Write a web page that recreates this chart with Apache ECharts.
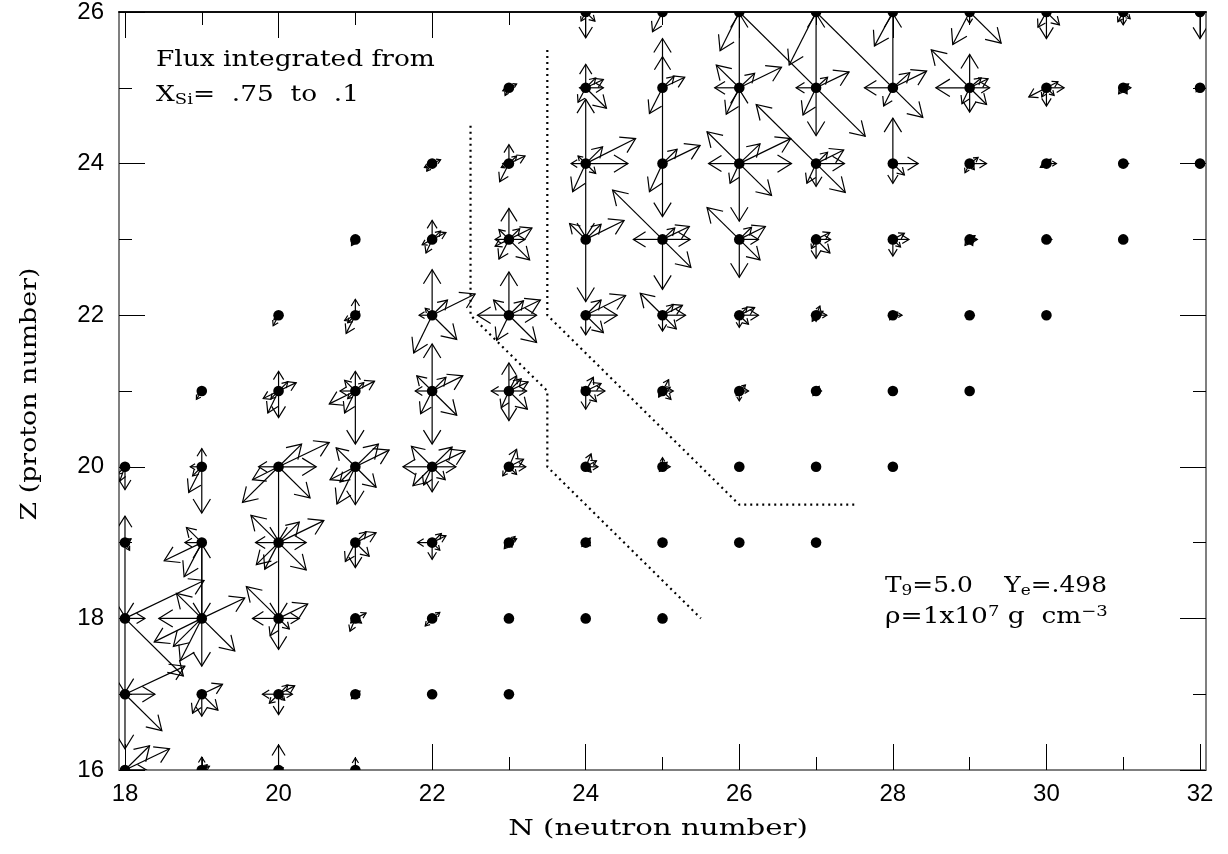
<!DOCTYPE html>
<html>
<head>
<meta charset="utf-8">
<script src="https://cdn.jsdelivr.net/npm/echarts@6/dist/echarts.min.js"></script>
<style>
html,body{margin:0;padding:0;background:#fff;}
#chart{width:1228px;height:854px;}
</style>
</head>
<body>
<div id="chart"></div>
<script>
// ---------- data ----------
const xMajorTicks = [18, 20, 22, 24, 26, 28, 30, 32];
const xMinorTicks = [19, 21, 23, 25, 27, 29, 31];
const yMajorTicks = [16, 18, 20, 22, 24, 26];
const yMinorTicks = [17, 19, 21, 23, 25];

// nuclei shown as dots: [N, Z]
const nucleiZ26 = [[24,26],[25,26],[26,26],[27,26],[28,26],[29,26],[30,26],[31,26],[32,26]];
const nucleiZ25 = [[23,25],[24,25],[25,25],[26,25],[27,25],[28,25],[29,25],[30,25],[31,25],[32,25]];
const nucleiZ24 = [[22,24],[23,24],[24,24],[25,24],[26,24],[27,24],[28,24],[29,24],[30,24],[31,24],[32,24]];
const nucleiZ23 = [[21,23],[22,23],[23,23],[24,23],[25,23],[26,23],[27,23],[28,23],[29,23],[30,23],[31,23]];
const nucleiZ22 = [[20,22],[21,22],[22,22],[23,22],[24,22],[25,22],[26,22],[27,22],[28,22],[29,22],[30,22]];
const nucleiZ21 = [[19,21],[20,21],[21,21],[22,21],[23,21],[24,21],[25,21],[26,21],[27,21],[28,21],[29,21]];
const nucleiZ20 = [[18,20],[19,20],[20,20],[21,20],[22,20],[23,20],[24,20],[25,20],[26,20],[27,20],[28,20]];
const nucleiZ19 = [[18,19],[19,19],[20,19],[21,19],[22,19],[23,19],[24,19],[25,19],[26,19],[27,19]];
const nucleiZ18 = [[18,18],[19,18],[20,18],[21,18],[22,18],[23,18],[24,18],[25,18]];
const nucleiZ17 = [[18,17],[19,17],[20,17],[21,17],[22,17],[23,17]];
const nucleiZ16 = [[18,16],[19,16],[20,16],[21,16]];

// flux arrows: [N, Z, dN, dZ]  (arrow from nucleus to (N+dN, Z+dZ))
const fluxZ26 = [
  [24,26,0,-0.34],[24,26,0.12,-0.12],[24,26,-0.06,-0.12],
  [25,26,-0.13,-0.26],
  [26,26,-0.25,-0.51],[26,26,1.64,-1.64],
  [27,26,-0.35,-0.7],[27,26,1.39,-1.39],
  [28,26,-0.24,-0.45],
  [29,26,-0.22,-0.43],[29,26,0.41,-0.41],[29,26,0,-0.15],
  [30,26,0,-0.35],[30,26,-0.11,-0.2],[30,26,0.17,-0.17],
  [31,26,0,-0.17],[31,26,-0.07,-0.13],[31,26,0.09,-0.09],
  [32,26,0,-0.35]
];
const fluxZ25 = [
  [23,25,-0.05,-0.1],[23,25,0.1,0.05],[23,25,-0.08,-0.04],
  [24,25,0,0.31],[24,25,0.23,0],[24,25,0.23,0.11],[24,25,0.13,0.13],[24,25,-0.1,-0.19],[24,25,0.27,-0.27],[24,25,-0.08,0],
  [25,25,0,0.41],[25,25,0.29,0.14],[25,25,0.15,0.15],[25,25,-0.17,-0.34],
  [26,25,-0.32,0],[26,25,-0.3,0.3],[26,25,0.2,0.19],[26,25,0.55,0.27],[26,25,-0.17,-0.35],[26,25,0,0.98],
  [27,25,-0.26,0],[27,25,0.15,0.14],[27,25,0.43,0.21],[27,25,-0.17,-0.36],[27,25,0,-0.63],[27,25,0,0.98],
  [28,25,-0.37,0],[28,25,0.22,0.2],[28,25,0.44,0.22],[28,25,-0.12,-0.24],[28,25,0,0.98],
  [29,25,-0.44,0],[29,25,-0.5,0.5],[29,25,0,0.44],[29,25,0.15,0.13],[29,25,0.24,0.12],[29,25,0.26,0],[29,25,0.22,-0.22],[29,25,0,-0.32],[29,25,-0.1,-0.21],
  [30,25,0.15,0.08],[30,25,0.23,0],[30,25,-0.23,-0.12],[30,25,0,-0.24],[30,25,0.1,-0.1],[30,25,-0.06,-0.12],
  [31,25,0.1,0],[31,25,-0.06,-0.08],[31,25,0.07,0.05],[31,25,0.05,-0.08],
  [32,25,0.06,0],[32,25,-0.05,-0.05]
];
const fluxZ24 = [
  [22,24,0.11,0.05],[22,24,-0.07,-0.1],[22,24,-0.1,-0.05],
  [23,24,0,0.25],[23,24,0.21,0.1],[23,24,0.1,0.1],[23,24,-0.12,-0.24],[23,24,-0.08,0],[23,24,-0.1,-0.05],
  [24,24,-0.19,0],[24,24,0.55,0],[24,24,0.65,0.33],[24,24,0.22,0.22],[24,24,-0.1,0.1],[24,24,-0.17,-0.37],[24,24,0.13,-0.13],[24,24,0,0.85],[24,24,0,-0.97],
  [25,24,0,1.65],[25,24,0.19,0.19],[25,24,0.49,0.24],[25,24,-0.17,-0.37],[25,24,0,-0.7],
  [26,24,-0.4,0],[26,24,0.68,0],[26,24,-0.42,0.42],[26,24,0.27,0.26],[26,24,0.67,0.33],[26,24,0.42,-0.42],[26,24,-0.12,-0.26],[26,24,0,-0.76],[26,24,0,0.98],
  [27,24,0.37,0],[27,24,0.36,0.18],[27,24,0.15,0.15],[27,24,-0.12,-0.26],[27,24,0,-0.3],[27,24,0.38,-0.38],[27,24,-0.78,0.78],
  [28,24,0,0.6],[28,24,0,-0.26],[28,24,0.33,0],[28,24,0.15,-0.15],
  [29,24,0.22,0],[29,24,0.11,0.08],[29,24,-0.06,-0.12],[29,24,0.06,-0.08],
  [30,24,0.13,0],[30,24,-0.08,-0.05],[30,24,0.06,0.06],
  [31,24,0.07,0],[31,24,-0.04,-0.04]
];
const fluxZ23 = [
  [21,23,-0.05,-0.08],[21,23,0.05,0.03],
  [22,23,0,0.25],[22,23,0.18,0.09],[22,23,0.11,0.11],[22,23,-0.08,-0.18],[22,23,-0.13,-0.07],
  [23,23,0,0.41],[23,23,-0.18,0],[23,23,-0.13,0.13],[23,23,0.14,0.14],[23,23,0.3,0.15],[23,23,0.21,0],[23,23,0.27,-0.27],[23,23,-0.13,-0.26],[23,23,-0.18,-0.09],
  [24,23,-0.21,0.21],[24,23,0.2,0.2],[24,23,0.5,0.25],[24,23,0,-0.82],
  [25,23,-0.38,0],[25,23,-0.65,0.65],[25,23,0.16,0.15],[25,23,0.35,0.17],[25,23,0.36,0],[25,23,0.37,-0.37],[25,23,0,-0.66],
  [26,23,-0.42,0.42],[26,23,0.16,0.16],[26,23,0.34,0.17],[26,23,0.25,0],[26,23,0.27,-0.27],[26,23,0,-0.5],
  [27,23,0.18,0.09],[27,23,0.19,0],[27,23,0.18,-0.18],[27,23,0,-0.25],[27,23,-0.06,-0.12],
  [28,23,0.21,0],[28,23,0.15,0.08],[28,23,0,-0.22],[28,23,0.1,-0.1],
  [29,23,0.1,0],[29,23,0.07,0.05],[29,23,-0.06,-0.08],[29,23,0.04,-0.08],
  [30,23,0.07,0],[30,23,-0.04,-0.03]
];
const fluxZ22 = [
  [20,22,-0.07,-0.14],[20,22,-0.06,-0.06],[20,22,0.04,0.03],
  [21,22,0,0.21],[21,22,-0.12,-0.24],[21,22,-0.14,-0.07],[21,22,-0.1,-0.1],[21,22,0.05,0.05],
  [22,22,0,0.6],[22,22,-0.17,0],[22,22,-0.09,0.09],[22,22,0.2,0.2],[22,22,0.56,0.28],[22,22,0.32,-0.32],[22,22,-0.24,-0.5],
  [23,22,0,0.57],[23,22,-0.41,0],[23,22,0.36,0],[23,22,-0.2,0.2],[23,22,0.19,0.19],[23,22,0.41,0.2],[23,22,0.36,-0.36],[23,22,-0.16,-0.33],
  [24,22,0,-0.26],[24,22,0.2,0.2],[24,22,0.52,0.26],[24,22,0.41,0],[24,22,0.23,-0.23],
  [25,22,-0.29,0.29],[25,22,0.14,0.14],[25,22,0.26,0.13],[25,22,0.3,0],[25,22,0.18,-0.18],[25,22,0,-0.21],
  [26,22,0.2,0.1],[26,22,0.1,0.1],[26,22,0.25,0],[26,22,0.12,-0.12],[26,22,0,-0.16],
  [27,22,0.05,0.12],[27,22,0.14,0],[27,22,0.09,0.05],[27,22,-0.05,-0.08],[27,22,0,-0.08],
  [28,22,0.12,0],[28,22,0.06,0.04],[28,22,-0.04,-0.06],
  [29,22,0.06,0],[29,22,-0.04,-0.05]
];
const fluxZ21 = [
  [19,21,-0.07,-0.11],[19,21,-0.05,-0.05],
  [20,21,0,0.26],[20,21,0,-0.35],[20,21,0.23,0.11],[20,21,0.12,0.12],[20,21,-0.2,-0.1],[20,21,-0.14,-0.29],[20,21,-0.1,-0.1],
  [21,21,0,0.26],[21,21,0,-0.7],[21,21,-0.14,0.14],[21,21,-0.2,0],[21,21,-0.34,-0.17],[21,21,-0.14,-0.29],[21,21,-0.1,-0.1],[21,21,0.25,0.13],[21,21,0.11,0.11],
  [22,21,0,0.62],[22,21,-0.22,0],[22,21,-0.2,0.2],[22,21,0.18,0.18],[22,21,0.4,0.2],[22,21,0.32,-0.32],[22,21,-0.15,-0.3],[22,21,0,-0.7],
  [23,21,0,0.37],[23,21,-0.23,0],[23,21,0.23,0],[23,21,0.1,0.2],[23,21,0.16,0.16],[23,21,0.25,0.12],[23,21,0.24,-0.24],[23,21,-0.1,-0.22],[23,21,0,-0.39],
  [24,21,0.1,0.18],[24,21,0.2,0.1],[24,21,0.25,0],[24,21,0.14,-0.14],[24,21,0,-0.24],[24,21,-0.05,0.05],
  [25,21,0.08,0.15],[25,21,0.14,0],[25,21,0.1,0.05],[25,21,0.11,-0.11],[25,21,-0.05,-0.08],
  [26,21,0.12,0],[26,21,0,-0.13],[26,21,0.08,0.08],[26,21,-0.04,-0.06],
  [27,21,0.07,0],[27,21,-0.04,-0.06],[27,21,0.04,0.06],
  [28,21,0.05,0],[28,21,-0.03,-0.05]
];
const fluxZ20 = [
  [18,20,0,-0.3],[18,20,-0.07,-0.19],[18,20,-0.1,-0.1],
  [19,20,0,0.24],[19,20,0,-0.61],[19,20,-0.15,0],[19,20,-0.17,-0.34],[19,20,-0.12,-0.12],
  [20,20,-0.26,0],[20,20,0.49,0],[20,20,0.3,0.3],[20,20,0.66,0.32],[20,20,0.41,-0.41],[20,20,-0.34,-0.17],[20,20,-0.47,-0.47],[20,20,0,-0.98],
  [21,20,-0.25,0.25],[21,20,0.3,0.3],[21,20,0.44,0.22],[21,20,-0.33,-0.17],[21,20,-0.24,-0.49],[21,20,0.27,-0.27],[21,20,0,-0.5],[21,20,-0.2,-0.2],
  [22,20,-0.38,0],[22,20,0.31,0],[22,20,-0.27,0.27],[22,20,0.26,0.26],[22,20,0.43,0.21],[22,20,0.17,-0.17],[22,20,-0.25,-0.25],[22,20,-0.11,-0.24],[22,20,0,-0.33],
  [23,20,0.1,0.23],[23,20,0.19,0.1],[23,20,0.22,0],[23,20,-0.08,-0.12],[23,20,0.1,-0.1],
  [24,20,0.07,0.17],[24,20,0.14,0.08],[24,20,0.16,0],[24,20,0.07,-0.07],
  [25,20,0,0.12],[25,20,0.1,0],[25,20,0.06,0.06],[25,20,-0.04,-0.06],
  [26,20,0.05,0],[26,20,0.03,0.04]
];
const fluxZ19 = [
  [18,19,0,0.35],[18,19,0,-0.98],[18,19,0.08,0.05],[18,19,0.06,-0.1],
  [19,19,-0.2,0.2],[19,19,-0.22,0],[19,19,-0.49,-0.24],[19,19,-0.23,-0.45],[19,19,0,-0.98],
  [20,19,-0.3,0],[20,19,0.36,0],[20,19,0.27,0.27],[20,19,0.59,0.29],[20,19,-0.18,-0.35],[20,19,-0.29,-0.29],[20,19,0.36,-0.36],[20,19,-0.36,0.36],[20,19,0,-0.98],
  [21,19,0.27,0.13],[21,19,0.14,0.14],[21,19,0.18,-0.18],[21,19,0,-0.33],[21,19,-0.13,-0.25],
  [22,19,-0.19,0],[22,19,0.18,0.09],[22,19,0.12,0.12],[22,19,0,-0.22],[22,19,0.1,-0.1],
  [23,19,0.08,0.08],[23,19,-0.06,-0.08],[23,19,0.1,0.05],[23,19,0.04,-0.06],
  [24,19,0.06,0.06],[24,19,-0.05,-0.05],[24,19,0.06,-0.04],
  [25,19,0.05,0.03],[25,19,-0.03,-0.05]
];
const fluxZ18 = [
  [18,18,0.26,0],[18,18,1.03,0.5],[18,18,0.76,-0.76],[18,18,0,-0.98],
  [19,18,-0.56,0],[19,18,-0.33,0.33],[19,18,0,0.98],[19,18,0.56,0.27],[19,18,0.43,-0.43],[19,18,-0.62,-0.31],[19,18,-0.37,-0.37],[19,18,-0.28,-0.56],[19,18,0,-0.63],
  [20,18,-0.42,0.42],[20,18,-0.34,0],[20,18,0.27,0],[20,18,0.38,0.19],[20,18,-0.11,-0.23],[20,18,0.14,-0.14],[20,18,0,-0.41],
  [21,18,0.14,0.07],[21,18,-0.07,-0.17],[21,18,-0.06,-0.06],[21,18,0.08,-0.06],
  [22,18,0.1,0.08],[22,18,-0.09,-0.1],[22,18,0.06,0.02],
  [23,18,0.04,0.03],[23,18,-0.03,-0.04]
];
const fluxZ17 = [
  [18,17,0.39,0],[18,17,0.78,0.37],[18,17,0.48,-0.48],[18,17,0,-0.72],
  [19,17,0.27,0.13],[19,17,0.21,-0.21],[19,17,0,-0.29],[19,17,-0.12,-0.25],
  [20,17,-0.21,0],[20,17,0.18,0],[20,17,0.21,0.11],[20,17,0.12,0.12],[20,17,0,-0.27],[20,17,-0.12,-0.12],[20,17,0.08,-0.08],
  [21,17,0.06,0.04],[21,17,-0.05,-0.06],[21,17,0.05,-0.04],
  [22,17,0.04,0.02],[22,17,-0.03,-0.03]
];
const fluxZ16 = [
  [18,16,0.32,0.32],[18,16,0.58,0.28],[18,16,0.28,0],
  [19,16,0,0.17],[19,16,0.1,0.05],[19,16,0.07,0.07],
  [20,16,0,0.33],[20,16,0.06,0.03],
  [21,16,0,0.16]
];

// dotted boundary lines [N, Z]
const boundaryInner = [[22.5,24.5],[22.5,22],[23.5,21],[23.5,20],[25.5,18]];
const boundaryOuter = [[23.5,25.5],[23.5,22],[26,19.5],[27.5,19.5]];

// ---------- chart ----------
const nuclei = [].concat(nucleiZ26, nucleiZ25, nucleiZ24, nucleiZ23, nucleiZ22, nucleiZ21,
                         nucleiZ20, nucleiZ19, nucleiZ18, nucleiZ17, nucleiZ16);
const fluxes = [].concat(fluxZ26, fluxZ25, fluxZ24, fluxZ23, fluxZ22, fluxZ21,
                         fluxZ20, fluxZ19, fluxZ18, fluxZ17, fluxZ16);

const X_MIN = 17.922, X_MAX = 32.078;
const serif = 'DejaVu Serif';

function renderArrow(params, api) {
  const n = api.value(0), z = api.value(1), dn = api.value(2), dz = api.value(3);
  const p0 = api.coord([n, z]);
  const p1 = api.coord([n + dn, z + dz]);
  const vx = p1[0] - p0[0], vy = p1[1] - p0[1];
  const L = Math.sqrt(vx * vx + vy * vy);
  if (L < 0.5) return null;
  const ux = vx / L, uy = vy / L;
  const h = Math.min(14, Math.max(2.5, L * 0.42));
  const w = h * 0.62;
  const bx = p1[0] - ux * h, by = p1[1] - uy * h;
  const a = [bx - uy * w, by + ux * w];
  const b = [bx + uy * w, by - ux * w];
  return {
    type: 'group',
    children: [
      { type: 'line', shape: { x1: p0[0], y1: p0[1], x2: p1[0], y2: p1[1] },
        style: { stroke: '#000', lineWidth: 1.2 } },
      { type: 'polyline', shape: { points: [a, p1, b] },
        style: { stroke: '#000', fill: null, lineWidth: 1.2 } }
    ]
  };
}

function renderDot(params, api) {
  const p = api.coord([api.value(0), api.value(1)]);
  return { type: 'circle', shape: { cx: p[0], cy: p[1], r: 5.3 }, style: { fill: '#000' } };
}

function xAxisDef(pos, ticks, len, showLabel, lineColor) {
  return {
    type: 'value', position: pos, min: X_MIN, max: X_MAX,
    axisLine: { show: true, onZero: false, lineStyle: { color: lineColor, width: 1.5 } },
    axisTick: { show: true, inside: true, length: len, customValues: ticks, lineStyle: { color: '#000', width: 1 } },
    axisLabel: showLabel ? { show: true, customValues: ticks, fontSize: 24, fontFamily: 'Liberation Sans', color: '#000', margin: 12 } : { show: false },
    splitLine: { show: false }
  };
}
function yAxisDef(pos, ticks, len, showLabel, lineColor) {
  return {
    type: 'value', position: pos, min: 16, max: 26,
    axisLine: { show: true, onZero: false, lineStyle: { color: lineColor, width: 1.5 } },
    axisTick: { show: true, inside: true, length: len, customValues: ticks, lineStyle: { color: '#000', width: 1 } },
    axisLabel: showLabel ? { show: true, customValues: ticks, fontSize: 24, fontFamily: 'Liberation Sans', color: '#000', margin: 15 } : { show: false },
    splitLine: { show: false }
  };
}

const mainText = { fontSize: 22, fontFamily: serif, fill: '#000', lineHeight: 26, verticalAlign: 'middle' };
const smallText = { fontSize: 15, fontFamily: serif, fill: '#000', lineHeight: 26, verticalAlign: 'middle' };

const chart = echarts.init(document.getElementById('chart'), null, { renderer: 'canvas' });
chart.setOption({
  backgroundColor: '#fff',
  animation: false,
  grid: { left: 119, right: 22, top: 11, bottom: 84, containLabel: false },
  xAxis: [
    xAxisDef('bottom', xMajorTicks, 26, true, '#777'),
    xAxisDef('bottom', xMinorTicks, 13, false, '#777'),
    xAxisDef('top', xMajorTicks, 26, false, '#000'),
    xAxisDef('top', xMinorTicks, 13, false, '#000')
  ],
  yAxis: [
    yAxisDef('left', yMajorTicks, 26, true, '#777'),
    yAxisDef('left', yMinorTicks, 13, false, '#777'),
    yAxisDef('right', yMajorTicks, 26, false, '#777'),
    yAxisDef('right', yMinorTicks, 13, false, '#777')
  ],
  series: [
    {
      type: 'custom', name: 'flux', xAxisIndex: 0, yAxisIndex: 0,
      renderItem: renderArrow, clip: true,
      encode: { x: 0, y: 1 },
      data: fluxes, z: 3, silent: true
    },
    {
      type: 'custom', name: 'nuclei', xAxisIndex: 0, yAxisIndex: 0,
      renderItem: renderDot, clip: true,
      encode: { x: 0, y: 1 },
      data: nuclei, z: 4, silent: true
    },
    {
      type: 'line', name: 'inner', xAxisIndex: 0, yAxisIndex: 0,
      data: boundaryInner, symbol: 'none', silent: true,
      lineStyle: { color: '#000', width: 2.2, type: [2, 4] }, z: 2
    },
    {
      type: 'line', name: 'outer', xAxisIndex: 0, yAxisIndex: 0,
      data: boundaryOuter, symbol: 'none', silent: true,
      lineStyle: { color: '#000', width: 2.2, type: [2, 4] }, z: 2
    }
  ],
  graphic: [
    { type: 'text', x: 658, y: 829, scaleX: 1.33, silent: true,
      style: { text: 'N (neutron number)', fontSize: 22, fontFamily: serif, fill: '#000', align: 'center', verticalAlign: 'middle' } },
    { type: 'text', x: 30, y: 394, rotation: Math.PI / 2, scaleX: 1.22, silent: true,
      style: { text: 'Z (proton number)', fontSize: 22, fontFamily: serif, fill: '#000', align: 'center', verticalAlign: 'middle' } },
    { type: 'text', x: 156, y: 60, scaleX: 1.2, silent: true,
      style: { text: 'Flux integrated from', fontSize: 22, fontFamily: serif, fill: '#000', align: 'left', verticalAlign: 'middle' } },
    { type: 'text', x: 156, y: 82, scaleX: 1.2, silent: true,
      style: {
        text: '{a|X}{s|Si}{a|=  .75  to  .1}', align: 'left', verticalAlign: 'top',
        rich: { a: mainText, s: Object.assign({}, smallText, { padding: [10, 0, 0, 0] }) }
      } },
    { type: 'text', x: 885, y: 573, scaleX: 1.13, silent: true,
      style: {
        text: '{a|T}{s|9}{a|=5.0    Y}{s|e}{a|=.498}', align: 'left', verticalAlign: 'top',
        rich: { a: mainText, s: Object.assign({}, smallText, { padding: [10, 0, 0, 0] }) }
      } },
    { type: 'text', x: 885, y: 599, scaleX: 1.2, silent: true,
      style: {
        text: '{a|ρ=1x10}{p|7}{a| g  cm}{p|−3}', align: 'left', verticalAlign: 'top',
        rich: { a: Object.assign({}, mainText, { padding: [10, 0, 0, 0] }), p: smallText }
      } }
  ]
});
</script>
</body>
</html>
